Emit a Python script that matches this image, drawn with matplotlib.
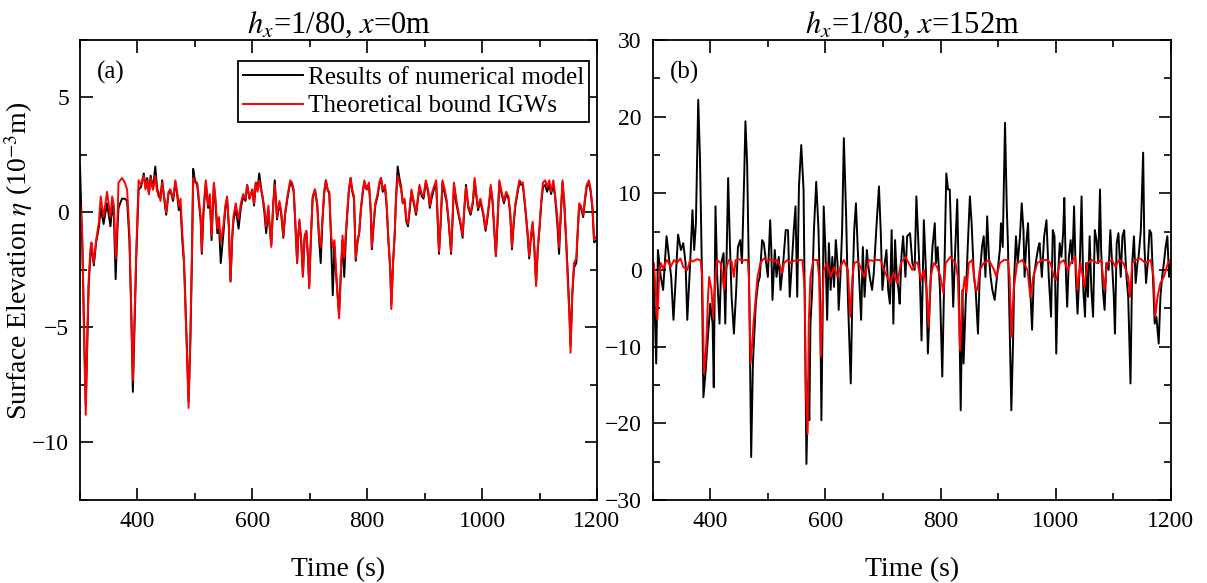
"""Surface elevation time series: numerical model vs theoretical bound IGWs"""

import matplotlib
matplotlib.use('Agg')
import matplotlib.pyplot as plt
from matplotlib.ticker import MultipleLocator

plt.rcParams['font.family'] = ['Liberation Serif', 'DejaVu Serif']
plt.rcParams['mathtext.fontset'] = 'stix'

###################################################################################################
# Data
###################################################################################################

# panel (a): x = 0 m
TIME_A = [300, 304, 307, 310, 313, 315, 318, 320, 324, 328, 333, 336, 341, 347, 353, 356, 359,
          362, 365, 367, 373, 378, 382, 386, 389, 392, 395, 398, 402, 406, 411, 414, 417, 420,
          423, 427, 431, 434, 437, 440, 443, 447, 450, 454, 457, 462, 466, 469, 472, 475, 478,
          481, 483, 486, 489, 492, 495, 497, 500, 504, 507, 510, 512, 515, 519, 523, 526, 529,
          533, 536, 539, 542, 545, 550, 553, 556, 559, 562, 565, 567, 571, 576, 580, 584, 588,
          591, 595, 600, 603, 606, 609, 612, 615, 618, 621, 624, 628, 630, 633, 636, 639, 643,
          647, 650, 654, 657, 661, 666, 669, 672, 675, 678, 680, 682, 685, 688, 691, 694, 697,
          699, 702, 705, 709, 713, 716, 719, 722, 725, 728, 731, 734, 737, 740, 743, 745, 748,
          751, 754, 757, 760, 763, 766, 768, 771, 774, 777, 780, 783, 786, 789, 792, 795, 799,
          803, 806, 808, 811, 814, 818, 821, 824, 827, 831, 834, 837, 840, 842, 845, 848, 850,
          853, 856, 859, 862, 865, 868, 871, 874, 877, 881, 885, 888, 891, 895, 898, 902, 906,
          909, 912, 916, 920, 922, 925, 928, 931, 935, 938, 942, 946, 949, 951, 955, 959, 963,
          966, 969, 972, 976, 980, 984, 987, 990, 993, 997, 1002, 1006, 1009, 1012, 1015, 1018,
          1021, 1024, 1027, 1030, 1034, 1038, 1042, 1046, 1049, 1052, 1055, 1058, 1062, 1065,
          1068, 1071, 1075, 1079, 1082, 1085, 1088, 1091, 1094, 1097, 1100, 1103, 1106, 1110,
          1113, 1117, 1120, 1124, 1127, 1131, 1134, 1137, 1140, 1143, 1146, 1149, 1152, 1154,
          1157, 1160, 1164, 1166, 1169, 1172, 1176, 1179, 1182, 1186, 1189, 1192, 1195, 1200]

THEORY_A = [0.5, -1.0, -5.5, -8.8, -5.0, -3.0, -1.6, -1.3, -2.2, -1.2, -0.4, 0.7, -0.2, 0.9,
            -0.2, 0.7, 0.3, -2.0, -0.5, 1.3, 1.5, 1.3, 1.0, -0.9, -4.0, -7.3, -4.5, -1.6, 1.4,
            1.2, 1.6, 1.0, 1.4, 0.8, 1.5, 1.0, 1.6, 0.9, 0.9, 0.5, 1.3, 0.6, 0.0, 0.9, 1.0, 0.6,
            1.4, 0.9, 0.3, 0.6, -0.9, -2.0, -3.8, -6.0, -8.5, -5.5, -1.6, 1.5, 1.3, 1.3, 0.6,
            -0.2, -1.7, 0.2, 1.4, 0.3, 0.8, -1.0, 1.3, 0.6, -0.7, -0.2, -1.3, -0.5, 0.3, 0.7,
            -0.5, -3.0, -1.0, -0.2, 0.4, -0.3, 0.4, 0.8, 0.6, 1.2, 0.6, 1.0, 0.4, 1.3, 0.9, 1.4,
            1.0, 0.7, 0.2, -0.6, 0.3, -0.5, -1.5, 0.2, 1.2, -0.2, 0.5, 0.1, -1.0, 0.0, 0.7, 1.4,
            1.3, 1.0, -0.5, -2.2, -1.0, -0.3, -1.2, -2.8, -1.0, -0.8, -2.0, -3.3, -1.0, 0.7, 1.0,
            0.4, -1.0, -1.5, -0.3, 0.9, 1.4, 1.0, 0.9, -1.0, -1.5, -1.2, -2.2, -3.5, -4.6, -2.6,
            -1.0, -2.0, -0.8, 0.3, 1.0, 1.5, 1.0, 0.7, -2.0, -1.2, -0.9, 0.2, 0.9, 1.4, 1.0, 1.3,
            0.2, -1.5, -0.5, 0.4, 0.8, 1.3, 1.5, 1.0, 1.2, 0.3, -1.2, -2.5, -4.2, -2.2, -0.8,
            0.5, 1.6, 1.3, 1.0, 0.4, 0.6, -0.3, -0.5, 0.2, 1.0, 0.5, 0.0, 0.6, 1.2, 0.8, 0.7,
            1.4, 1.0, 0.3, 0.8, 1.1, 1.4, 0.2, -1.7, -0.3, 1.4, 1.0, 0.6, -0.4, -1.7, 0.0, 1.3,
            0.6, 0.0, -0.5, -1.0, 0.2, 1.1, 0.3, 0.0, 0.5, 1.5, 0.8, 0.2, 0.6, 0.0, -0.7, -0.2,
            0.4, 1.2, 0.6, -0.6, -1.9, -0.3, 1.4, 0.9, 0.5, 0.9, 0.7, 0.0, -1.5, -0.4, 0.4, 1.0,
            1.4, 1.3, 1.3, 0.3, -0.8, -1.9, -1.0, -0.4, -1.5, -3.2, -1.5, -0.6, 0.5, 1.3, 1.4,
            1.1, 1.4, 0.9, 1.4, 0.8, -0.2, -1.5, 0.0, 1.4, 0.5, -1.0, -2.9, -4.5, -6.1, -3.5,
            -2.2, -2.0, -1.0, 0.4, 0.3, -0.1, 0.6, 1.2, 1.4, 1.0, 0.3, -1.2, -1.0]

MODEL_A = [2.0, -1.5, -5.0, -8.4, -5.3, -3.2, -1.9, -1.5, -2.3, -1.3, -0.6, 0.2, -0.5, 0.4,
           -0.6, 0.3, -0.2, -2.9, -0.8, 0.2, 0.6, 0.6, 0.5, -1.2, -4.2, -7.8, -4.8, -1.9, 1.0,
           1.1, 1.7, 1.1, 1.5, 0.8, 1.6, 1.0, 2.0, 1.1, 0.7, 0.6, 1.4, 0.5, -0.1, 0.8, 1.0, 0.5,
           1.3, 0.8, 0.1, 0.3, -1.2, -2.2, -3.5, -5.8, -8.2, -5.7, -1.8, 1.9, 1.4, 1.2, 0.4,
           -0.3, -1.8, 0.0, 1.3, 0.2, 0.6, -1.2, 1.2, 0.3, -0.9, -0.6, -2.2, -0.8, 0.2, 0.6,
           -0.6, -3.0, -1.1, -0.4, 0.2, -0.7, 0.2, 0.7, 0.5, 1.2, 0.6, 1.0, 0.3, 1.3, 1.0, 1.7,
           1.1, 0.6, 0.0, -0.9, 0.1, -0.6, -1.4, 0.2, 1.4, -0.3, 0.4, 0.0, -1.1, -0.1, 0.6, 1.3,
           1.2, 0.9, -0.6, -2.2, -1.0, -0.4, -1.2, -2.7, -1.1, -0.8, -2.0, -3.2, -1.1, 0.6, 1.0,
           0.3, -1.1, -2.2, -0.4, 0.8, 1.4, 1.0, 0.8, -1.1, -3.6, -1.5, -2.4, -3.4, -4.4, -2.7,
           -1.2, -2.8, -1.0, 0.2, 0.9, 1.5, 0.9, 0.6, -2.1, -1.3, -0.9, 0.1, 0.8, 1.3, 1.0, 1.2,
           0.1, -1.6, -0.6, 0.3, 0.7, 1.2, 1.5, 0.9, 1.1, 0.2, -1.3, -2.4, -4.0, -2.2, -0.9,
           0.6, 2.0, 1.5, 1.1, 0.4, 0.5, -0.4, -0.6, 0.1, 0.9, 0.4, -0.1, 0.5, 1.1, 0.7, 0.6,
           1.3, 0.9, 0.2, 0.6, 1.0, 1.3, 0.1, -1.8, -0.4, 1.3, 0.8, 0.5, -0.5, -1.8, -0.1, 1.2,
           0.4, -0.1, -0.6, -1.1, 0.1, 1.2, 0.2, -0.1, 0.4, 1.4, 0.7, 0.1, 0.5, -0.1, -0.8,
           -0.3, 0.3, 1.1, 0.5, -0.7, -1.9, -0.4, 1.3, 0.8, 0.4, 0.8, 0.6, -0.1, -1.6, -0.5,
           0.3, 0.9, 1.3, 1.2, 1.2, 0.2, -0.9, -2.0, -1.1, -0.5, -1.6, -3.1, -1.6, -0.7, 0.4,
           1.1, 1.2, 0.9, 1.2, 0.8, 1.2, 0.7, -0.5, -1.8, -0.1, 1.3, 0.4, -1.1, -2.6, -4.3,
           -5.8, -3.6, -2.4, -2.2, -1.1, 0.3, 0.2, -0.2, 0.5, 1.1, 1.3, 0.9, 0.2, -1.3, -1.2]

# panel (b): x = 152 m, numerical model
TIME_B_MODEL = [300, 303, 306, 309, 314, 318, 324, 328, 332, 336, 340, 344, 349, 353, 357, 360,
                365, 369, 372, 375, 379, 382, 385, 388, 392, 395, 400, 404, 406, 409, 412, 416,
                419, 423, 426, 428, 431, 434, 437, 441, 445, 448, 452, 455, 459, 461, 464, 468,
                471, 474, 479, 483, 486, 490, 493, 497, 500, 504, 506, 508, 512, 515, 519, 522,
                527, 531, 535, 538, 542, 545, 548, 551, 554, 558, 562, 564, 567, 570, 572, 574,
                577, 580, 584, 588, 591, 593, 595, 597, 600, 603, 606, 609, 612, 615, 618, 621,
                623, 626, 629, 632, 636, 639, 644, 647, 650, 653, 656, 660, 662, 665, 668, 672,
                674, 677, 681, 684, 689, 693, 696, 699, 703, 706, 709, 712, 715, 718, 721, 724,
                727, 729, 732, 735, 739, 742, 747, 751, 755, 758, 764, 767, 771, 775, 778, 783,
                786, 790, 792, 795, 799, 803, 807, 810, 813, 816, 819, 822, 825, 829, 832, 835,
                838, 840, 844, 847, 851, 854, 858, 861, 865, 868, 872, 875, 878, 881, 884, 887,
                890, 894, 898, 903, 905, 908, 910, 912, 915, 917, 919, 923, 926, 928, 931, 934,
                938, 941, 944, 946, 949, 952, 955, 959, 962, 967, 970, 972, 976, 980, 984, 988,
                992, 995, 998, 1001, 1004, 1007, 1010, 1013, 1015, 1018, 1020, 1023, 1026, 1029,
                1032, 1035, 1038, 1042, 1045, 1048, 1051, 1053, 1056, 1059, 1062, 1065, 1068,
                1071, 1074, 1077, 1079, 1082, 1085, 1088, 1092, 1095, 1098, 1101, 1103, 1106,
                1109, 1113, 1116, 1119, 1123, 1126, 1130, 1133, 1136, 1139, 1142, 1144, 1148,
                1152, 1154, 1157, 1160, 1163, 1166, 1169, 1172, 1175, 1179, 1182, 1185, 1188,
                1191, 1194, 1197, 1200]

MODEL_B = [1.0, -4.0, -12.2, 2.6, -0.9, -2.6, 4.4, 1.7, -0.9, -6.5, -0.9, 4.6, 2.6, 3.5, 0.9,
           -6.5, 0.9, 7.8, 2.6, 6.1, 22.2, 14.8, 1.7, -16.6, -13.1, -9.6, -4.4, -7.0, -15.3, 8.3,
           -0.9, -7.0, 0.9, 2.2, -7.0, 0.9, 12.0, 3.5, -3.5, -8.3, -2.6, 3.0, 3.9, 0.9, 12.6,
           19.4, 13.9, -4.8, -24.4, -12.2, -4.4, -1.7, -0.9, 3.9, 3.5, 0.9, -0.9, 6.5, 2.6,
           -3.9, 2.6, -0.9, 1.7, -2.6, 1.3, 5.2, 5.2, -3.5, 1.3, 5.2, 8.3, -3.5, 10.9, 16.3,
           10.5, -3.5, -25.3, -14.4, -19.6, -7.0, -2.6, 5.2, 11.5, 5.2, -4.8, -19.6, -7.0, 8.3,
           2.6, -6.5, 3.5, -2.6, 1.7, -2.2, 3.9, 0.9, -5.2, -0.9, 5.2, 17.2, 7.0, -3.5, -14.8,
           -2.6, 5.2, 8.7, 3.0, -3.5, -6.5, 3.0, -3.5, 2.6, 0.9, -0.9, -2.6, -0.4, 6.1, 10.9,
           5.2, -2.6, 0.9, 2.6, -2.6, -4.4, 5.2, -7.0, 3.9, -0.9, -2.6, -4.4, 1.7, 4.4, -0.9,
           4.4, 4.8, 0.9, 0.0, 9.6, -0.9, -9.2, 6.5, -0.9, -10.9, -0.9, 3.0, 6.1, 0.9, 3.0,
           -2.6, -13.9, 0.9, 12.6, 10.5, 10.5, 2.6, -4.8, 1.7, 9.2, -2.6, -18.3, -2.6, -12.2,
           -3.5, 2.6, 9.6, 6.1, -0.9, -2.6, -8.3, -0.9, 3.0, 4.4, -0.9, 7.0, 1.7, -0.9, -2.6,
           -3.9, -0.9, 2.6, 6.1, 3.0, 10.9, 19.2, 8.3, 3.5, -3.5, -18.3, -9.2, -0.9, 4.4, 0.9,
           4.4, 8.7, 5.2, -0.9, 3.5, 6.1, -0.9, -7.8, -0.9, 1.7, 3.0, 3.5, -0.9, 4.4, 6.5,
           -0.9, -6.1, 5.2, 4.4, -10.9, -0.9, 3.5, 1.7, 4.8, 9.4, -0.9, -4.8, 1.7, 3.9, 0.9,
           8.3, -0.9, -5.7, 0.9, 9.6, -2.6, -6.1, 0.9, -3.5, 4.4, -2.6, -6.1, 5.2, 3.9, 0.9,
           10.5, 2.6, -2.6, -5.2, 0.9, 0.0, 5.2, 0.9, -3.5, -8.3, 3.5, 4.8, -0.9, 4.4, 5.2,
           -0.9, -3.5, -14.8, 0.9, 4.4, -1.7, 0.9, 1.7, 5.2, 15.3, 3.5, -1.7, 0.9, 5.2, 4.8,
           -0.9, -7.0, -6.1, -9.6, -3.5, -0.9, 0.9, 3.0, 4.4, -0.9, 1.0]

# panel (b): theoretical bound IGWs
TIME_B_THEORY = [300, 302, 305, 308, 311, 314, 318, 322, 325, 331, 337, 342, 348, 353, 360, 365,
                 370, 376, 383, 386, 389, 392, 394, 396, 398, 402, 405, 407, 409, 412, 418, 421,
                 424, 427, 432, 437, 441, 444, 450, 456, 461, 465, 467, 470, 473, 475, 479, 482,
                 487, 493, 500, 505, 510, 516, 522, 525, 528, 534, 540, 545, 554, 560, 564, 566,
                 569, 571, 574, 579, 586, 589, 592, 595, 597, 603, 609, 615, 621, 626, 632, 639,
                 643, 647, 650, 656, 661, 667, 676, 682, 687, 696, 702, 707, 713, 718, 725, 731,
                 739, 751, 757, 760, 766, 771, 776, 779, 783, 788, 794, 800, 805, 809, 817, 826,
                 830, 834, 838, 842, 845, 849, 855, 861, 864, 868, 875, 884, 893, 897, 903, 910,
                 917, 920, 923, 927, 933, 942, 951, 956, 961, 968, 977, 985, 991, 997, 1001, 1007,
                 1014, 1021, 1026, 1034, 1038, 1043, 1050, 1055, 1063, 1072, 1079, 1085, 1089,
                 1098, 1104, 1110, 1118, 1126, 1129, 1133, 1139, 1147, 1156, 1165, 1170, 1173,
                 1177, 1182, 1188, 1195, 1200]

THEORY_B = [0.9, 0.9, -2.6, -6.5, -0.9, 0.9, 0.2, 0.9, 1.3, 0.4, 1.3, 0.9, 1.5, 0.4, 0.0, 1.3,
            1.1, 1.4, 1.3, -0.9, -13.5, -11.0, -7.8, -3.5, -0.9, -2.6, -6.1, -3.0, -0.9, 1.3,
            0.9, -0.9, -2.6, 0.0, 1.3, 1.1, -0.9, 1.3, 1.4, 1.2, 1.3, 1.3, -0.9, -12.2, -9.5,
            -7.0, -3.5, -0.9, 0.9, 1.5, 1.2, 1.4, 1.1, 1.3, 0.4, -0.4, 0.9, 1.3, 0.9, 1.2, 1.3,
            1.3, -2.6, -15.7, -21.4, -7.0, -0.9, 1.3, 1.3, -0.9, -11.3, -4.4, 0.0, 0.9, -0.9,
            0.4, -0.9, 0.4, 1.3, 0.0, -6.1, -0.9, 0.9, 1.1, 0.4, -0.9, 1.3, 1.2, 1.3, 1.3, 0.0,
            -0.9, -1.7, -0.4, -1.7, 0.9, 1.7, 0.0, 0.9, 1.0, -1.3, 0.0, -2.6, -7.4, -0.9, 0.9,
            0.4, -0.9, -3.0, 0.9, 1.7, 0.9, -0.9, -10.5, -3.5, -0.9, -3.0, 0.9, 1.3, -2.6, -2.6,
            0.0, 0.9, 1.3, 0.0, -0.9, 0.9, 1.3, 1.3, -0.9, -8.7, -2.6, 0.9, 1.3, 0.0, -3.5,
            -0.9, 0.9, 1.3, 1.3, 0.9, -0.9, -1.3, 0.9, 1.3, 0.0, 0.9, 1.7, -2.6, 0.9, -2.2, 0.9,
            1.3, 0.9, 1.3, -2.6, 0.9, 1.3, 0.4, 1.3, 0.9, -0.9, -3.5, 0.9, 1.3, 1.5, 0.9, 1.3,
            -0.9, -6.1, -3.5, -1.7, -0.9, 0.9, 1.3]


###################################################################################################
# Plotting
###################################################################################################


def style_axis(ax, major_y: float, minor_y: float) -> None:
    """Inward ticks on all four sides, major/minor as in the reference."""
    ax.set_xlim(300, 1200)
    ax.xaxis.set_major_locator(MultipleLocator(200))
    ax.xaxis.set_minor_locator(MultipleLocator(100))
    ax.yaxis.set_major_locator(MultipleLocator(major_y))
    ax.yaxis.set_minor_locator(MultipleLocator(minor_y))
    ax.tick_params(which='both', direction='in', top=True, right=True, labelsize=17, width=1.2)
    ax.tick_params(which='major', length=9, pad=8)
    ax.tick_params(which='minor', length=5)
    for spine in ax.spines.values():
        spine.set_linewidth(1.3)
    ax.set_xlabel('Time (s)', fontsize=20, labelpad=18)


def plot_panels() -> None:
    """Draw both panels and save out.png"""
    fig = plt.figure(figsize=(12.07, 5.83), dpi=100)
    ax_a = fig.add_axes([0.0663, 0.1424, 0.4283, 0.789])
    ax_b = fig.add_axes([0.5408, 0.1424, 0.4292, 0.789])

    # panel (a)
    ax_a.plot(TIME_A, MODEL_A, color='black', lw=1.4, label='Results of numerical model')
    ax_a.plot(TIME_A, THEORY_A, color='#ff0000', lw=1.4, label='Theoretical bound IGWs')
    ax_a.set_ylim(-12.5, 7.5)
    style_axis(ax_a, 5, 2.5)
    ax_a.set_ylabel(r'Surface Elevation $\eta$ (10$^{-3}$m)', fontsize=20)
    ax_a.yaxis.set_label_coords(-0.088, 0.52)
    ax_a.set_title(r'$h_x$=1/80, $x$=0m', fontsize=22, pad=4)
    ax_a.text(0.033, 0.93, '(a)', transform=ax_a.transAxes, fontsize=18, va='center')
    leg = ax_a.legend(loc='upper right', bbox_to_anchor=(0.985, 0.954), fontsize=18,
                      handlelength=2.4, handletextpad=0.2, borderpad=0.2, labelspacing=0.25,
                      borderaxespad=0.0, fancybox=False, framealpha=1)
    leg.get_frame().set_edgecolor('black')
    leg.get_frame().set_linewidth(1.3)

    # panel (b)
    ax_b.plot(TIME_B_MODEL, MODEL_B, color='black', lw=1.4)
    ax_b.plot(TIME_B_THEORY, THEORY_B, color='#ff0000', lw=1.4)
    ax_b.set_ylim(-30, 30)
    style_axis(ax_b, 10, 5)
    ax_b.set_title(r'$h_x$=1/80, $x$=152m', fontsize=22, pad=4)
    ax_b.text(0.033, 0.93, '(b)', transform=ax_b.transAxes, fontsize=18, va='center')

    fig.savefig('out.png', dpi=100)


if __name__ == '__main__':
    plot_panels()
